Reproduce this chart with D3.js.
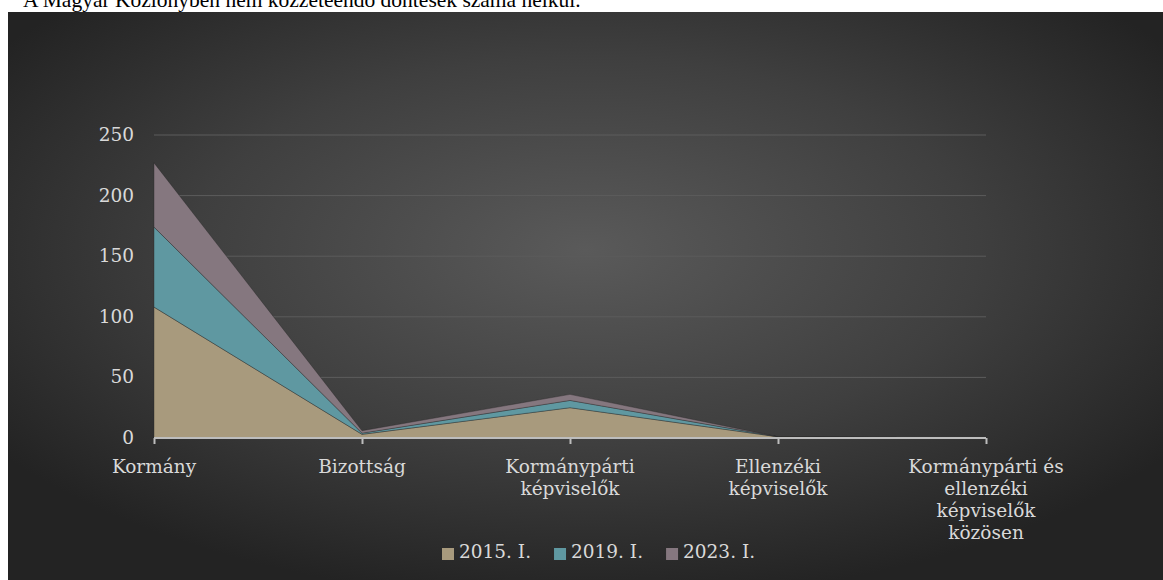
<!DOCTYPE html>
<html lang="hu">
  <head>
    <meta charset="UTF-8" />
    <title>Döntések száma</title>
    <script src="https://d3js.org/d3.v7.min.js"></script>
    <style>
      body {
        margin: 0;
        background: #fff;
      }
      text {
        font-family: "DejaVu Serif", serif;
      }
      .tick-label {
        fill: #d9d9d9;
        font-size: 18.5px;
      }
      .grid {
        stroke: #5c5c5c;
        stroke-width: 1px;
      }
    </style>
  </head>
  <body>
    <svg width="1163" height="580"></svg>

    <script>
      var categories = [
        "Kormány",
        "Bizottság",
        "Kormánypárti képviselők",
        "Ellenzéki képviselők",
        "Kormánypárti és ellenzéki képviselők közösen",
      ];
      // label lines as wrapped in the picture
      var categoryLines = [
        ["Kormány"],
        ["Bizottság"],
        ["Kormánypárti", "képviselők"],
        ["Ellenzéki", "képviselők"],
        ["Kormánypárti és", "ellenzéki", "képviselők", "közösen"],
      ];
      var seriesNames = ["2015. I.", "2019. I.", "2023. I."];
      var values2015 = [108, 3, 25, 1, 0];
      var values2019 = [66, 1, 6, 0, 0];
      var values2023 = [53, 2, 5, 0, 0];
      var yTicks = [0, 50, 100, 150, 200, 250];
      var colors = ["#a89a7d", "#5f98a1", "#85777f"];

      var svg = d3.select("svg");

      // caption above the chart, cut off at the top
      svg
        .append("text")
        .attr("x", 23)
        .attr("y", 7)
        .style("font-family", "'Liberation Serif', serif")
        .style("font-size", "21.5px")
        .attr("fill", "#000")
        .text("A Magyar Közlönyben nem közzéteendő döntések száma nélkül.");

      var defs = svg.append("defs");
      var grad = defs
        .append("radialGradient")
        .attr("id", "bg")
        .attr("cx", "0.5")
        .attr("cy", "0.42")
        .attr("r", "0.62");
      grad.append("stop").attr("offset", "0").attr("stop-color", "#5a5a5a");
      grad.append("stop").attr("offset", "0.55").attr("stop-color", "#3f3f3f");
      grad.append("stop").attr("offset", "1").attr("stop-color", "#232323");

      svg
        .append("rect")
        .attr("x", 8)
        .attr("y", 12)
        .attr("width", 1155)
        .attr("height", 568)
        .attr("fill", "url(#bg)");

      var x = d3.scalePoint().domain(categories).range([154, 986]);
      var y = d3.scaleLinear().domain([0, 250]).range([438, 135]);

      // gridlines
      svg
        .selectAll(".grid")
        .data(yTicks.slice(1))
        .enter()
        .append("line")
        .attr("class", "grid")
        .attr("x1", 154)
        .attr("x2", 986)
        .attr("y1", function (d) {
          return y(d);
        })
        .attr("y2", function (d) {
          return y(d);
        });

      var rows = categories.map(function (c, i) {
        return { cat: c, s0: values2015[i], s1: values2019[i], s2: values2023[i] };
      });
      var stack = d3.stack().keys(["s0", "s1", "s2"]);
      var layers = stack(rows);

      var area = d3
        .area()
        .x(function (d) {
          return x(d.data.cat);
        })
        .y0(function (d) {
          return y(d[0]);
        })
        .y1(function (d) {
          return y(d[1]);
        });

      svg
        .selectAll(".layer")
        .data(layers)
        .enter()
        .append("path")
        .attr("class", "layer")
        .attr("d", area)
        .attr("fill", function (d, i) {
          return colors[i];
        })
        .attr("stroke", "rgba(40,40,40,0.55)")
        .attr("stroke-width", 0.7);

      // x axis
      var xAxis = svg
        .append("g")
        .attr("transform", "translate(0," + y(0) + ")")
        .call(d3.axisBottom(x).tickSize(6).tickSizeOuter(0).tickFormat(""));
      xAxis.select(".domain").attr("stroke", "#bdbdbd").attr("stroke-width", 2)
        .attr("d", "M154,0H986");
      xAxis.selectAll(".tick line").attr("stroke", "#bdbdbd").attr("stroke-width", 2);

      // x labels
      var xl = svg
        .selectAll(".xlab")
        .data(categories)
        .enter()
        .append("text")
        .attr("class", "tick-label")
        .attr("text-anchor", "middle")
        .attr("x", function (d) {
          return x(d);
        })
        .attr("y", 473);
      xl.each(function (d, i) {
        var t = d3.select(this);
        categoryLines[i].forEach(function (line, j) {
          t.append("tspan")
            .attr("x", x(d))
            .attr("dy", j === 0 ? 0 : 22)
            .text(line);
        });
      });

      // y labels
      svg
        .selectAll(".ylab")
        .data(yTicks)
        .enter()
        .append("text")
        .attr("class", "tick-label")
        .attr("text-anchor", "end")
        .attr("x", 134)
        .attr("y", function (d) {
          return y(d) + 6;
        })
        .text(function (d) {
          return d;
        });

      // legend
      var legend = svg.append("g").attr("transform", "translate(442,558)");
      var lx = 0;
      seriesNames.forEach(function (name, i) {
        var g = legend.append("g").attr("transform", "translate(" + lx + ",0)");
        g.append("rect")
          .attr("x", 0)
          .attr("y", -10)
          .attr("width", 12)
          .attr("height", 12)
          .attr("fill", colors[i]);
        var t = g
          .append("text")
          .attr("class", "tick-label")
          .attr("x", 17)
          .attr("y", 0)
          .text(name);
        lx += 17 + t.node().getComputedTextLength() + 23;
      });
    </script>
  </body>
</html>
